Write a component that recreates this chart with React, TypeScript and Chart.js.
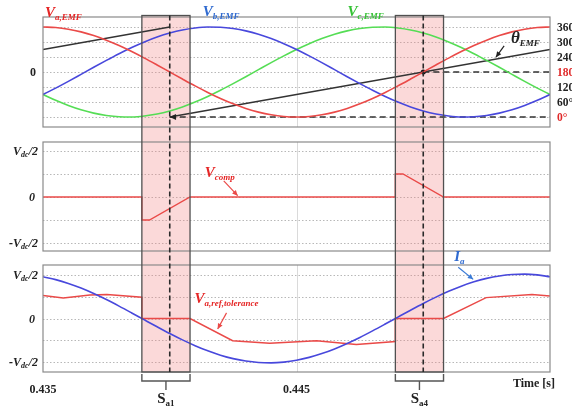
import React, { useEffect, useRef } from 'react';
import { Chart, registerables } from 'chart.js';
Chart.register(...registerables);

// ---------- data ----------
const times = [0.435, 0.4355, 0.436, 0.4365, 0.437, 0.4375, 0.438, 0.4385, 0.439, 0.4395, 0.44, 0.4405, 0.441, 0.4415, 0.442, 0.4425, 0.443, 0.4435, 0.444, 0.4445, 0.445, 0.4455, 0.446, 0.4465, 0.447, 0.4475, 0.448, 0.4485, 0.449, 0.4495, 0.45, 0.4505, 0.451, 0.4515, 0.452, 0.4525, 0.453, 0.4535, 0.454, 0.4545, 0.455];
const vaEmf = [1, 0.988, 0.951, 0.891, 0.809, 0.707, 0.588, 0.454, 0.309, 0.156, 0, -0.156, -0.309, -0.454, -0.588, -0.707, -0.809, -0.891, -0.951, -0.988, -1, -0.988, -0.951, -0.891, -0.809, -0.707, -0.588, -0.454, -0.309, -0.156, 0, 0.156, 0.309, 0.454, 0.588, 0.707, 0.809, 0.891, 0.951, 0.988, 1];
const vbEmf = [-0.5, -0.358, -0.208, -0.052, 0.105, 0.259, 0.407, 0.545, 0.669, 0.777, 0.866, 0.934, 0.978, 0.999, 0.995, 0.966, 0.914, 0.839, 0.743, 0.629, 0.5, 0.358, 0.208, 0.052, -0.105, -0.259, -0.407, -0.545, -0.669, -0.777, -0.866, -0.934, -0.978, -0.999, -0.995, -0.966, -0.914, -0.839, -0.743, -0.629, -0.5];
const vcEmf = [-0.5, -0.629, -0.743, -0.839, -0.914, -0.966, -0.995, -0.999, -0.978, -0.934, -0.866, -0.777, -0.669, -0.545, -0.407, -0.259, -0.105, 0.052, 0.208, 0.358, 0.5, 0.629, 0.743, 0.839, 0.914, 0.966, 0.995, 0.999, 0.978, 0.934, 0.866, 0.777, 0.669, 0.545, 0.407, 0.259, 0.105, -0.052, -0.208, -0.358, -0.5];
const iaVals = [0.96, 0.894, 0.806, 0.699, 0.573, 0.435, 0.285, 0.128, -0.032, -0.191, -0.346, -0.492, -0.625, -0.744, -0.844, -0.923, -0.979, -1.012, -1.02, -1.002, -0.96, -0.894, -0.806, -0.699, -0.573, -0.435, -0.285, -0.128, 0.032, 0.191, 0.346, 0.492, 0.625, 0.744, 0.844, 0.923, 0.979, 1.012, 1.02, 1.002, 0.96];

const thetaTimes = [0.435, 0.44, 0.44, 0.44, 0.455];
const thetaDeg = [270, 360, null, 0, 270];
const zeroDegTimes = [0.44, 0.455];
const zeroDegVals = [0, 0];
const halfDegTimes = [0.45, 0.455];
const halfDegVals = [180, 180];

const compTimes = [0.435, 0.4389, 0.4389, 0.4392, 0.4408, 0.4489, 0.4489, 0.4492, 0.4508, 0.455];
const compVals = [0, 0, -0.5, -0.5, 0, 0, 0.5, 0.5, 0, 0];

const refTimes = [0.435, 0.4358, 0.43685, 0.43752, 0.4389, 0.4389, 0.4408, 0.44248, 0.44394, 0.44579, 0.44736, 0.4489, 0.4489, 0.4508, 0.45248, 0.45429, 0.455];
const refVals = [0.53, 0.47, 0.54, 0.55, 0.49, 0, 0, -0.51, -0.57, -0.51, -0.6, -0.53, 0, 0, 0.48, 0.55, 0.52];

const windowStart = [0.4389, 0.4489];
const windowEnd = [0.4408, 0.4508];
const markerTimes = [0.44, 0.45];
const windowNames = ['a1', 'a4'];

const xTickVals = [0.435, 0.445];
const xTickLabels = ['0.435', '0.445'];
const xGridVals = [0.445];
const emfGrid = [-1, -0.6667, -0.3333, 0, 0.3333, 0.6667, 1];
const thetaTickLabels = ['0°', '60°', '120°', '180°', '240°', '300°', '360°'];
const thetaTickColors = ['#e02a2a', '#222', '#222', '#e02a2a', '#222', '#222', '#222'];
const vdcGrid = [-1, -0.5, 0, 0.5, 1];

// ---------- styles ----------
const RED = '#ea4a48';
const BLUE = '#4848dc';
const GREEN = '#55dd55';
const BLACK = '#333333';
const RED_TXT = '#e52626';
const BLUE_TXT = '#2f6ad0';
const GREEN_TXT = '#35c235';
const SERIF = '"Liberation Serif", "Times New Roman", serif';

const deg2pu = (d: number | null) => (d === null ? null : d / 180 - 1);
const pts = (ts: number[], vs: (number | null)[]) => ts.map((t, i) => ({ x: t, y: vs[i] }));

const annotations = [
  { axis: 'y1', t: 0.43508, v: 1.22, main: 'V', sub: 'a,EMF', color: RED_TXT, size: 15 },
  { axis: 'y1', t: 0.4413, v: 1.24, main: 'V', sub: 'b,EMF', color: BLUE_TXT, size: 15 },
  { axis: 'y1', t: 0.44701, v: 1.24, main: 'V', sub: 'c,EMF', color: GREEN_TXT, size: 15 },
  { axis: 'y1', t: 0.45346, v: 0.64, main: 'θ', sub: 'EMF', color: '#222', size: 17 },
  { axis: 'y2', t: 0.44138, v: 0.43, main: 'V', sub: 'comp', color: RED_TXT, size: 15 },
  { axis: 'y3', t: 0.44098, v: 0.356, main: 'V', sub: 'a,ref,tolerance', color: RED_TXT, size: 15 },
  { axis: 'y3', t: 0.45122, v: 1.32, main: 'I', sub: 'a', color: BLUE_TXT, size: 15 },
];
const pointers = [
  { axis: 'y1', t1: 0.45319, v1: 0.58, t2: 0.45287, v2: 0.33, color: '#222' },
  { axis: 'y2', t1: 0.44213, v1: 0.35, t2: 0.44268, v2: 0.03, color: RED },
  { axis: 'y3', t1: 0.44224, v1: 0.13, t2: 0.44189, v2: -0.24, color: RED },
  { axis: 'y3', t1: 0.45138, v1: 1.18, t2: 0.45197, v2: 0.9, color: '#3a7ad6' },
];

type Seg = { t: string; size: number; dy: number; italic?: boolean };
function drawRich(ctx: any, segs: Seg[], x: number, y: number, align: string, color: string) {
  ctx.save();
  ctx.textBaseline = 'alphabetic';
  ctx.textAlign = 'left';
  ctx.fillStyle = color;
  const fonts = segs.map(s => `${s.italic ? 'italic ' : ''}bold ${s.size}px ${SERIF}`);
  let w = 0;
  const ws = segs.map((s, i) => { ctx.font = fonts[i]; const m = ctx.measureText(s.t).width; w += m; return m; });
  let cx = align === 'left' ? x : align === 'right' ? x - w : x - w / 2;
  segs.forEach((s, i) => { ctx.font = fonts[i]; ctx.fillText(s.t, cx, y + s.dy); cx += ws[i]; });
  ctx.restore();
}
function arrowHead(ctx: any, x1: number, y1: number, x2: number, y2: number, size: number) {
  const a = Math.atan2(y2 - y1, x2 - x1);
  ctx.beginPath();
  ctx.moveTo(x2, y2);
  ctx.lineTo(x2 - size * Math.cos(a - 0.45), y2 - size * Math.sin(a - 0.45));
  ctx.lineTo(x2 - size * Math.cos(a + 0.45), y2 - size * Math.sin(a + 0.45));
  ctx.closePath();
  ctx.fill();
}
const vdcSegs = (neg: boolean): Seg[] => [
  { t: (neg ? '-' : '') + 'V', size: 12, dy: 0, italic: true },
  { t: 'dc', size: 8, dy: 2, italic: true },
  { t: '/2', size: 12, dy: 0, italic: true },
];

const overlay = {
  id: 'overlay',
  beforeDatasetsDraw(chart: any) {
    const ctx = chart.ctx;
    const xs = chart.scales.x;
    const panels = ['y1', 'y2', 'y3'].map(k => chart.scales[k]);
    const L = chart.chartArea.left, R = chart.chartArea.right;
    ctx.save();
    panels.forEach((p: any) => {
      // dotted horizontal grid from the panel's own ticks
      ctx.strokeStyle = '#b8b8b8';
      ctx.lineWidth = 1;
      ctx.setLineDash([1.5, 2]);
      p.ticks.forEach((tk: any) => {
        const py = Math.round(p.getPixelForValue(tk.value)) + 0.5;
        ctx.beginPath(); ctx.moveTo(L, py); ctx.lineTo(R, py); ctx.stroke();
      });
      ctx.setLineDash([]);
      ctx.strokeStyle = '#dadada';
      xGridVals.forEach(v => {
        const px = Math.round(xs.getPixelForValue(v)) + 0.5;
        ctx.beginPath(); ctx.moveTo(px, p.top); ctx.lineTo(px, p.bottom); ctx.stroke();
      });
    });
    const top = panels[0].top - 1.5;
    const bottom = panels[2].bottom;
    windowStart.forEach((s, i) => {
      const a = xs.getPixelForValue(s);
      const b = xs.getPixelForValue(windowEnd[i]);
      ctx.fillStyle = 'rgba(242,130,130,0.30)';
      ctx.fillRect(a, top, b - a, bottom - top);
    });
    ctx.restore();
  },
  afterDatasetsDraw(chart: any) {
    const ctx = chart.ctx;
    const xs = chart.scales.x;
    const panels = ['y1', 'y2', 'y3'].map(k => chart.scales[k]);
    const L = chart.chartArea.left, R = chart.chartArea.right;
    ctx.save();
    ctx.strokeStyle = '#8a8a8a';
    ctx.lineWidth = 1.2;
    panels.forEach((p: any) => ctx.strokeRect(L, p.top, R - L, p.bottom - p.top));
    const top = panels[0].top - 1.5;
    const bottom = panels[2].bottom;
    windowStart.forEach((s, i) => {
      const a = xs.getPixelForValue(s);
      const b = xs.getPixelForValue(windowEnd[i]);
      ctx.strokeStyle = '#505050';
      ctx.lineWidth = 1.3;
      ctx.setLineDash([]);
      ctx.strokeRect(a, top, b - a, bottom - top);
      const m = xs.getPixelForValue(markerTimes[i]);
      ctx.strokeStyle = '#2a2a2a';
      ctx.lineWidth = 1.6;
      ctx.setLineDash([5, 3]);
      ctx.beginPath(); ctx.moveTo(m, top); ctx.lineTo(m, bottom); ctx.stroke();
      ctx.setLineDash([]);
      const bt = xs.top;
      const c = (a + b) / 2;
      ctx.strokeStyle = '#555';
      ctx.lineWidth = 1.4;
      ctx.beginPath();
      ctx.moveTo(a, bt + 2); ctx.lineTo(a, bt + 9); ctx.lineTo(b, bt + 9); ctx.lineTo(b, bt + 2);
      ctx.moveTo(c, bt + 9); ctx.lineTo(c, bt + 18);
      ctx.stroke();
      drawRich(ctx, [{ t: 'S', size: 15, dy: 0 }, { t: windowNames[i], size: 9, dy: 3 }], c, bt + 31, 'center', '#222');
    });
    const y1 = chart.scales.y1;
    ctx.fillStyle = '#222';
    const ax = xs.getPixelForValue(zeroDegTimes[0]);
    const ay = y1.getPixelForValue(deg2pu(zeroDegVals[0]));
    arrowHead(ctx, ax + 10, ay, ax, ay, 7);
    pointers.forEach(p => {
      const sc = chart.scales[p.axis];
      const x1 = xs.getPixelForValue(p.t1), yy1 = sc.getPixelForValue(p.v1);
      const x2 = xs.getPixelForValue(p.t2), yy2 = sc.getPixelForValue(p.v2);
      ctx.strokeStyle = p.color; ctx.fillStyle = p.color; ctx.lineWidth = 1.2;
      ctx.beginPath(); ctx.moveTo(x1, yy1); ctx.lineTo(x2, yy2); ctx.stroke();
      arrowHead(ctx, x1, yy1, x2, yy2, 6);
    });
    ctx.restore();
  },
  afterDraw(chart: any) {
    const ctx = chart.ctx;
    const xs = chart.scales.x;
    const L = chart.chartArea.left, R = chart.chartArea.right;
    const y1 = chart.scales.y1, y2 = chart.scales.y2, y3 = chart.scales.y3;
    annotations.forEach(a => {
      const sc = chart.scales[a.axis];
      const x = xs.getPixelForValue(a.t), y = sc.getPixelForValue(a.v);
      drawRich(ctx, [{ t: a.main, size: a.size, dy: 0, italic: true }, { t: a.sub, size: 9, dy: 3, italic: true }], x, y, 'left', a.color);
    });
    emfGrid.forEach((v, i) => {
      drawRich(ctx, [{ t: thetaTickLabels[i], size: 11.5, dy: 0 }], R + 7, y1.getPixelForValue(v) + 4, 'left', thetaTickColors[i]);
    });
    drawRich(ctx, [{ t: '0', size: 12, dy: 0 }], L - 7, y1.getPixelForValue(0) + 4, 'right', '#222');
    [y2, y3].forEach((sc: any) => {
      drawRich(ctx, vdcSegs(false), L - 5, sc.getPixelForValue(1) + 4, 'right', '#222');
      drawRich(ctx, [{ t: '0', size: 12, dy: 0, italic: true }], L - 8, sc.getPixelForValue(0) + 4, 'right', '#222');
      drawRich(ctx, vdcSegs(true), L - 5, sc.getPixelForValue(-1) + 4, 'right', '#222');
    });
    drawRich(ctx, [{ t: 'Time [s]', size: 12, dy: 0 }], R + 5, xs.top + 15, 'right', '#222');
  },
};

const line = (data: any[], color: string, axis: string, extra: any = {}) => ({
  data, borderColor: color, backgroundColor: color, yAxisID: axis, xAxisID: 'x',
  borderWidth: 1.6, pointRadius: 0, tension: 0, spanGaps: false, ...extra,
});

const setTicks = (vals: number[]) => (s: any) => { s.ticks = vals.map(v => ({ value: v })); };
const fixW = (s: any) => { s.width = 43; };
const panelAxis = (min: number, max: number, weight: number, grid: number[]) => ({
  type: 'linear', position: 'left', stack: 'panels', stackWeight: weight, min, max,
  afterBuildTicks: setTicks(grid), afterFit: fixW,
  ticks: { display: false }, grid: { display: false, drawTicks: false }, border: { display: false },
});
const gapAxis = (weight: number) => ({
  type: 'linear', position: 'left', stack: 'panels', stackWeight: weight, min: 0, max: 1,
  afterFit: fixW, ticks: { display: false }, grid: { display: false }, border: { display: false },
});

export default function App() {
  const ref = useRef<HTMLCanvasElement>(null);
  useEffect(() => {
    const chart = new Chart(ref.current as HTMLCanvasElement, {
      type: 'line',
      data: {
        datasets: [
          line(pts(times, vaEmf), RED, 'y1', { cubicInterpolationMode: 'monotone' }),
          line(pts(times, vbEmf), BLUE, 'y1', { cubicInterpolationMode: 'monotone' }),
          line(pts(times, vcEmf), GREEN, 'y1', { cubicInterpolationMode: 'monotone' }),
          line(pts(thetaTimes, thetaDeg.map(deg2pu)), BLACK, 'y1', { borderWidth: 1.5 }),
          line(pts(zeroDegTimes, zeroDegVals.map(deg2pu)), '#333', 'y1', { borderDash: [6, 4], borderWidth: 1.5 }),
          line(pts(halfDegTimes, halfDegVals.map(deg2pu)), '#333', 'y1', { borderDash: [6, 4], borderWidth: 1.5, pointRadius: [2.5, 0], pointBackgroundColor: '#111', pointBorderWidth: 0 }),
          line(pts(compTimes, compVals), RED, 'y2', { borderWidth: 1.4 }),
          line(pts(times, iaVals), BLUE, 'y3', { cubicInterpolationMode: 'monotone' }),
          line(pts(refTimes, refVals), RED, 'y3', { borderWidth: 1.5 }),
        ],
      },
      options: {
        responsive: false,
        devicePixelRatio: 1,
        animation: false,
        parsing: false,
        normalized: true,
        layout: { padding: { top: 17, right: 22, bottom: 0, left: 0 } },
        plugins: { legend: { display: false }, tooltip: { enabled: false } },
        scales: {
          x: {
            type: 'linear', position: 'bottom', min: 0.435, max: 0.455,
            afterBuildTicks: setTicks(xTickVals),
            afterFit: (s: any) => { s.height = 35; },
            ticks: {
              maxRotation: 0, autoSkip: false, padding: 3, color: '#222',
              font: { family: SERIF, size: 12, weight: 'bold' },
              callback: (v: any) => { const i = xTickVals.indexOf(v); return i >= 0 ? xTickLabels[i] : ''; },
            },
            grid: { display: false }, border: { display: false },
          },
          y3: panelAxis(-1.23, 1.23, 107, vdcGrid),
          g2: gapAxis(14),
          y2: panelAxis(-1.174, 1.196, 109, vdcGrid),
          g1: gapAxis(15),
          y1: panelAxis(-1.222, 1.222, 110, emfGrid),
        } as any,
      },
      plugins: [overlay],
    } as any);
    return () => chart.destroy();
  }, []);
  return (
    <div style={{ position: 'fixed', left: 0, top: 0, width: 572, height: 407, background: '#fff' }}>
      <canvas ref={ref} width={572} height={407} style={{ display: 'block' }} />
    </div>
  );
}
